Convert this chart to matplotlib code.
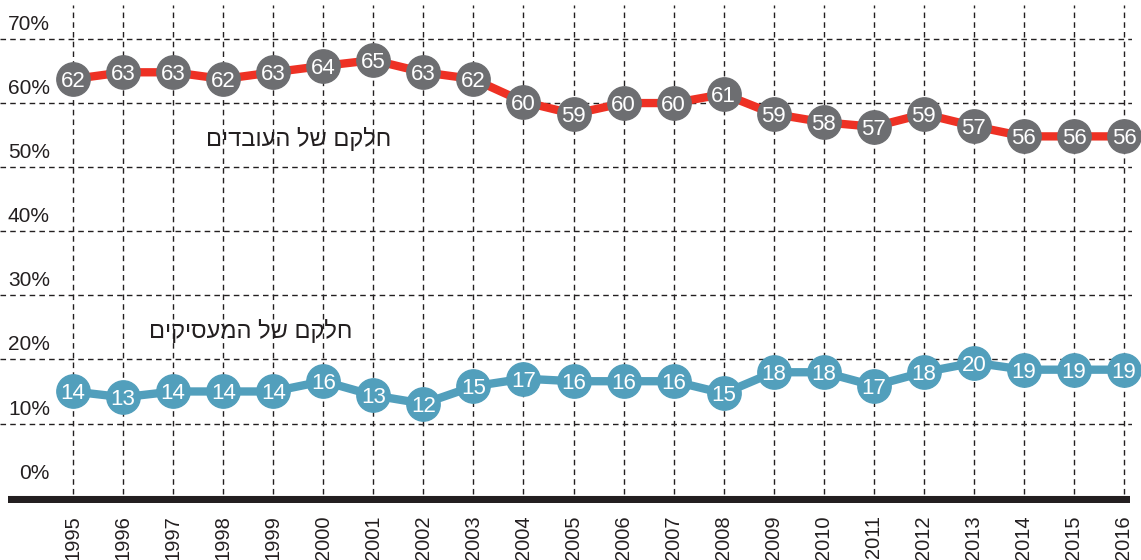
import matplotlib
matplotlib.use("Agg")
import matplotlib.pyplot as plt
from matplotlib import font_manager

years = list(range(1995, 2017))
# plotted positions and printed labels
workers_pos = [63.75, 64.8, 64.8, 63.75, 64.8, 65.8, 66.7, 64.8, 63.75, 60.2, 58.3,
               60.0, 60.0, 61.4, 58.3, 57.0, 56.3, 58.3, 56.4, 54.8, 54.8, 54.8]
workers_lbl = [62, 63, 63, 62, 63, 64, 65, 63, 62, 60, 59, 60, 60, 61, 59, 58, 57, 59, 57, 56, 56, 56]
employers_pos = [15.0, 14.1, 15.0, 15.0, 15.0, 16.6, 14.4, 13.1, 15.8, 17.0, 16.6,
                 16.6, 16.6, 14.7, 18.0, 18.0, 15.9, 18.0, 19.5, 18.4, 18.4, 18.4]
employers_lbl = [14, 13, 14, 14, 14, 16, 13, 12, 15, 17, 16, 16, 16, 15, 18, 18, 17, 18, 20, 19, 19, 19]
yticks = [10, 20, 30, 40, 50, 60, 70]
ylabels_all = [0, 10, 20, 30, 40, 50, 60, 70]
workers_title = "חלקם של העובדים"
employers_title = "חלקם של המעסיקים"

names = {f.name for f in font_manager.fontManager.ttflist}
narrow = "Liberation Sans Narrow" if "Liberation Sans Narrow" in names else "Liberation Sans"
FAM = [narrow, "DejaVu Sans"]
HEB = ["Liberation Sans", "DejaVu Sans"]

RED = "#EE3124"
GRAY = "#6D6E71"
BLUE = "#529FBC"
DARK = "#231F20"

W, H = 1141, 560
fig = plt.figure(figsize=(W / 100, H / 100), dpi=100)
left_px, right_px, top_px, bot_px = 0, 1132, 5, 503
ax = fig.add_axes([left_px / W, 1 - bot_px / H, (right_px - left_px) / W, (bot_px - top_px) / H])
ax.set_xlim(1993.54, 2016.16)
ax.set_ylim(-2.4, 75.3)
ax.axis("off")

# grid
for v in yticks:
    ax.axhline(v, color=DARK, lw=1.0, ls=(0, (4, 3)), zorder=1)
ax.vlines(years, -1.0, 75.3, color=DARK, lw=1.0, linestyles=[(0, (4, 3))], zorder=1)

# bottom bar
ax.axhline(-1.875, xmin=8 / 1132, xmax=1130 / 1132, color=DARK, lw=5.8, solid_capstyle="butt", zorder=2)

# y labels
for v in ylabels_all:
    ax.annotate(f"{v}%", xy=(0, v), xycoords=("axes fraction", "data"),
                xytext=(50, 5), textcoords="offset pixels", ha="right", va="bottom",
                fontsize=15, color=DARK, family=FAM)

# series
ax.plot(years, workers_pos, color=RED, lw=6, zorder=3, solid_capstyle="round", clip_on=False)
ax.plot(years, workers_pos, ls="none", marker="o", ms=24, mfc=GRAY, mec=GRAY, zorder=4, clip_on=False)
ax.plot(years, employers_pos, color=BLUE, lw=6, zorder=3, solid_capstyle="round", clip_on=False)
ax.plot(years, employers_pos, ls="none", marker="o", ms=24, mfc=BLUE, mec=BLUE, zorder=4, clip_on=False)

for x, y, l in zip(years, workers_pos, workers_lbl):
    ax.text(x, y, str(l), ha="center", va="center_baseline", color="white",
            fontsize=16, family=FAM, zorder=5)
for x, y, l in zip(years, employers_pos, employers_lbl):
    ax.text(x, y, str(l), ha="center", va="center_baseline", color="white",
            fontsize=16, family=FAM, zorder=5)

# x labels
for x in years:
    ax.annotate(str(x), xy=(x, 0), xycoords=("data", "axes fraction"),
                xytext=(0, -12), textcoords="offset pixels", ha="center", va="top",
                rotation=90, fontsize=14.5, color=DARK, family=FAM)

# series titles (Hebrew, visual order)
ax.text(1999.5, 54.4, workers_title[::-1], ha="center", va="center", fontsize=17,
        color=DARK, family=HEB, zorder=5)
ax.text(1998.54, 24.5, employers_title[::-1], ha="center", va="center", fontsize=17,
        color=DARK, family=HEB, zorder=5)

fig.savefig("out.png", dpi=100)
